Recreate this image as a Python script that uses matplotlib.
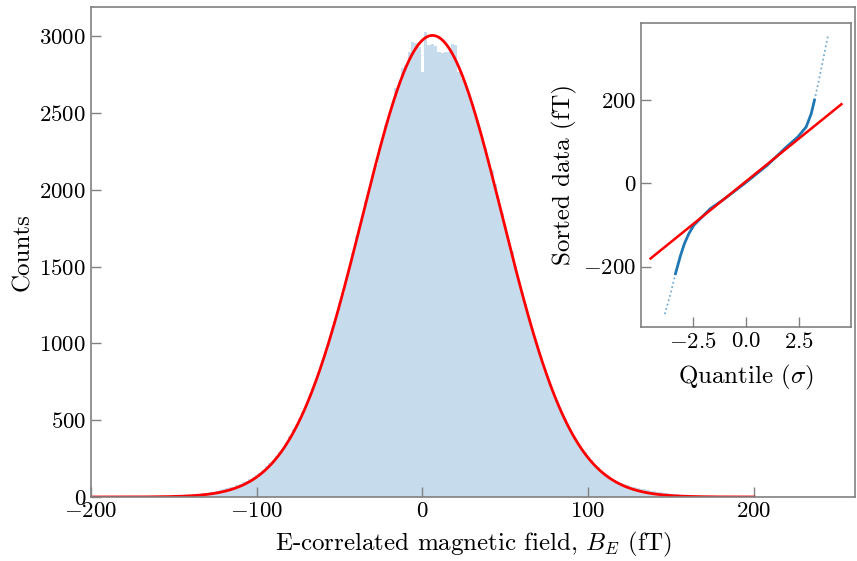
# Histogram of the E-correlated field with Gaussian fit and a QQ inset.
import numpy as np
import matplotlib.pyplot as plt

plt.rcParams['font.family'] = 'cmr10'
plt.rcParams['mathtext.fontset'] = 'cm'
plt.rcParams['axes.formatter.use_mathtext'] = True

# Histogram counts, 2 fT bins, first bin centred at -160 fT.
bin_start = -161
bin_width = 2
counts = [
    3, 4, 5, 6, 8, 9, 10, 11, 12, 14,
    15, 17, 19, 21, 24, 27, 31, 35, 38, 44,
    50, 56, 62, 68, 77, 84, 95, 104, 116, 128,
    142, 158, 176, 200, 222, 243, 268, 294, 322, 352,
    395, 440, 470, 510, 552, 600, 655, 712, 768, 820,
    893, 950, 1030, 1105, 1170, 1262, 1330, 1420, 1495, 1590,
    1700, 1760, 1835, 1925, 2010, 2095, 2160, 2270, 2340, 2420,
    2490, 2560, 2660, 2700, 2790, 2810, 2900, 2960, 2955, 2930,
    2770, 3030, 2945, 2950, 2935, 2895, 2890, 2900, 2895, 2950,
    2945, 2770, 2720, 2690, 2625, 2560, 2490, 2425, 2345, 2270,
    2200, 2130, 2040, 1935, 1850, 1755, 1670, 1600, 1505, 1420,
    1335, 1255, 1180, 1100, 1030, 960, 892, 830, 765, 712,
    652, 600, 552, 505, 462, 420, 384, 350, 318, 290,
    262, 238, 214, 192, 172, 154, 138, 124, 110, 100,
    90, 82, 75, 68, 62, 57, 53, 49, 45, 41,
    37, 33, 30, 27, 24, 21, 19, 17, 15, 13,
    11, 9, 8, 6, 5, 4,
]

# Gaussian fit parameters
fit_amp = 3005
fit_mu = 6.0
fit_sigma = 42.3

# QQ plot: theoretical quantile vs sorted data (fT)
qq_theo = [-3.82, -3.55, -3.32, -3.08, -2.90, -2.69, -2.46, -2.15, -1.68, -1.0,
           0.0, 1.0, 1.90, 2.44, 2.83, 3.07, 3.22, 3.38, 3.62, 3.86]
qq_data = [-314, -265, -217, -173, -145, -121, -101, -85, -61, -37,
           2, 43, 87, 111, 135, 167, 199, 235, 295, 355]
qq_slope = 41.2
qq_intercept = 4.5
qq_range = [-4.49, 4.49]

grey = '#808080'
tick_size = 16.5
label_size = 18

fig = plt.figure(figsize=(8.57, 5.61), dpi=100)
ax = fig.add_axes([0.1062, 0.1141, 0.8915, 0.8734])

edges = bin_start + bin_width * np.arange(len(counts) + 1)
ax.stairs(counts, edges, fill=True, color='#1f77b4', alpha=0.25, linewidth=0)

xf = np.linspace(-200, 200, 800)
ax.plot(xf, fit_amp * np.exp(-(xf - fit_mu) ** 2 / (2 * fit_sigma ** 2)), color='red', lw=2)

ax.set_xlim(-200, 261)
ax.set_ylim(0, 3190)
ax.set_xticks([-200, -100, 0, 100, 200])
ax.set_yticks([0, 500, 1000, 1500, 2000, 2500, 3000])
ax.set_xlabel('E-correlated magnetic field, $B_E$ (fT)', fontsize=label_size, labelpad=6)
ax.set_ylabel('Counts', fontsize=label_size)

# Inset QQ plot
ins = fig.add_axes([0.748, 0.4177, 0.245, 0.5419])
qx = np.array(qq_theo)
qy = np.array(qq_data)
core = (qx >= -3.35) & (qx <= 3.25)
low = qx <= -3.3
high = qx >= 3.2
ins.plot(qx[low], qy[low], color='#1f77b4', lw=1.3, ls=(0, (1, 1.5)), alpha=0.6)
ins.plot(qx[high], qy[high], color='#1f77b4', lw=1.3, ls=(0, (1, 1.5)), alpha=0.6)
ins.plot(qx[core], qy[core], color='#1f77b4', lw=2)
lx = np.array(qq_range)
ins.plot(lx, qq_intercept + qq_slope * lx, color='red', lw=1.8)
ins.set_xlim(-4.94, 4.94)
ins.set_ylim(-344, 385)
ins.set_xticks([-2.5, 0.0, 2.5])
ins.set_yticks([-200, 0, 200])
ins.set_xlabel(r'Quantile ($\sigma$)', fontsize=label_size, labelpad=8)
ins.set_ylabel('Sorted data (fT)', fontsize=label_size)

for a in (ax, ins):
    for s in a.spines.values():
        s.set_color(grey)
        s.set_linewidth(1.2)
    a.tick_params(direction='in', length=7, width=1, color=grey, labelsize=tick_size)

plt.savefig('out.png', dpi=100)
